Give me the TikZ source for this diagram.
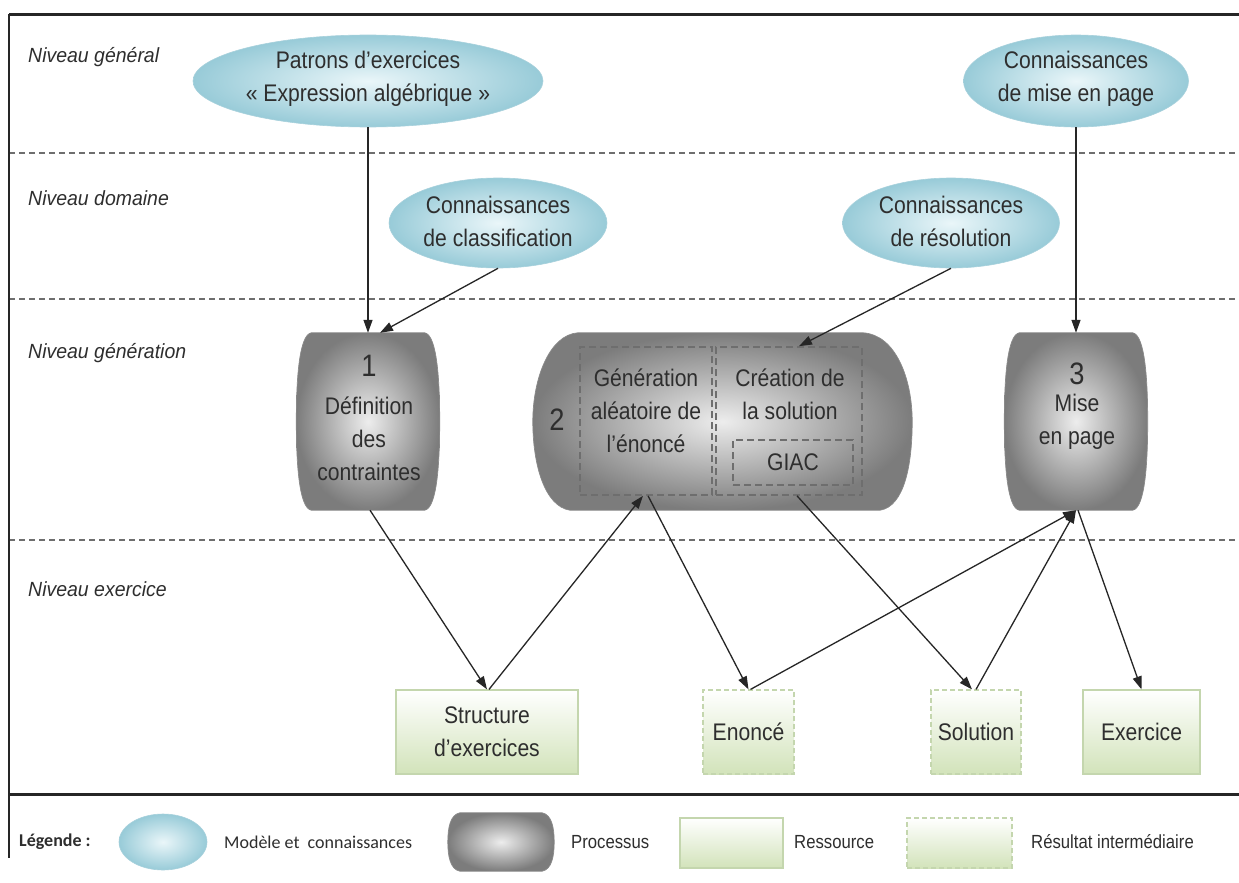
\documentclass[tikz,border=0pt]{standalone}
\usepackage{fontspec}
\setmainfont{Liberation Sans}
\newfontfamily\narfont{Liberation Sans}[FakeStretch=0.88]
\newfontfamily\lvlfont{Liberation Sans}[FakeStretch=0.95]
\newfontfamily\legfont{Carlito}
\usetikzlibrary{shapes.geometric,arrows.meta,backgrounds}
\definecolor{txtc}{HTML}{2E2E2E}
\definecolor{ellin}{HTML}{EAF6F9}
\definecolor{ellout}{HTML}{98CBD8}
\definecolor{ellb}{HTML}{A8D1DC}
\definecolor{procin}{HTML}{EDEDED}
\definecolor{procout}{HTML}{7C7C7C}
\definecolor{procb}{HTML}{8A8A8A}
\definecolor{resg}{HTML}{D2E3BA}
\definecolor{resb}{HTML}{C4D6AE}
\definecolor{dashc}{HTML}{6E6E6E}
\definecolor{framec}{HTML}{262626}
\tikzset{
  ell/.style={ellipse, draw=ellb, line width=0.6pt, inner color=ellin, outer color=ellout, inner sep=0pt},
  ntxt/.style={font=\narfont\fontsize{24}{33}\selectfont, text=txtc, align=center, inner sep=0pt},
  bignum/.style={font=\narfont\fontsize{31}{33}\selectfont, text=txtc, inner sep=0pt},
  lvl/.style={font=\lvlfont\itshape\fontsize{20.5}{24}\selectfont, text=txtc, anchor=base west, inner sep=0pt},
  anchorbox/.style={rectangle, draw=none, inner sep=0pt},
  procshape/.style={draw=procb, line width=0.7pt, inner color=procin, outer color=procout},
  dbox/.style={rectangle, draw=dashc, line width=1.6pt, dash pattern=on 7pt off 4pt, inner sep=0pt},
  resbox/.style={rectangle, draw=resb, line width=1.2pt, top color=white, bottom color=resg, inner sep=0pt,
     font=\narfont\fontsize{24}{33}\selectfont, text=txtc, align=center},
  intbox/.style={resbox, dash pattern=on 5pt off 3pt},
  levelline/.style={draw=dashc, line width=1.8pt, dash pattern=on 6pt off 4pt},
  conn/.style={draw=black!85, line width=1.3pt, -{Triangle[length=13pt,width=9pt]}},
  legtxt/.style={font=\narfont\fontsize{19}{22}\selectfont, text=txtc, anchor=west, inner sep=0pt},
}
% barrel outline for an anchor box #1, side bulge #2, vertical handle #3
% (xshift / yshift are page directions: positive yshift = up)
\newcommand{\barrelpath}[3]{%
  (#1.north west) -- (#1.north east)
  .. controls ([xshift=0.8*#2,yshift=-2pt]#1.north east) and ([xshift=#2,yshift=-#3]#1.north east) .. ([xshift=#2]#1.east)
  .. controls ([xshift=#2,yshift=#3]#1.south east) and ([xshift=0.8*#2,yshift=2pt]#1.south east) .. (#1.south east)
  -- (#1.south west)
  .. controls ([xshift=-0.8*#2,yshift=2pt]#1.south west) and ([xshift=-#2,yshift=#3]#1.south west) .. ([xshift=-#2]#1.west)
  .. controls ([xshift=-#2,yshift=-#3]#1.north west) and ([xshift=-0.8*#2,yshift=-2pt]#1.north west) .. cycle}
\begin{document}
\begin{tikzpicture}[x=1pt,y=-1pt]
\useasboundingbox (0,0) rectangle (1239,883);

% level labels
\node[lvl] (lv1) at (28,63) {Niveau général};
\node[lvl] (lv2) at (28,205) {Niveau domaine};
\node[lvl] (lv3) at (28,358) {Niveau génération};
\node[lvl] (lv4) at (28,596) {Niveau exercice};

% ellipses (models and knowledge)
\node[ell, minimum width=350pt, minimum height=92pt] (e1) at (368,81) {};
\node[ntxt] (e1t) at (368,79) {Patrons d’exercices\\« Expression algébrique »};
\node[ell, minimum width=218pt, minimum height=90pt] (e2) at (498,223) {};
\node[ntxt] (e2t) at (498,221) {Connaissances\\de classification};
\node[ell, minimum width=217pt, minimum height=90pt] (e3) at (951,223) {};
\node[ntxt] (e3t) at (951,221) {Connaissances\\de résolution};
\node[ell, minimum width=225pt, minimum height=92pt] (e4) at (1076,81) {};
\node[ntxt] (e4t) at (1076,79) {Connaissances\\de mise en page};

% processes (anchor boxes)
\node[anchorbox, minimum width=113pt, minimum height=177pt] (p1) at (368,421.5) {};
\node[anchorbox, minimum width=379pt, minimum height=177pt] (p2) at (722.5,421.5) {};
\node[anchorbox, minimum width=113pt, minimum height=177pt] (p3) at (1076,421.5) {};

\begin{scope}[on background layer]
  \fill[white] (0,0) rectangle (1239,883);
  \path[levelline] (9,153) -- (1239,153);
  \path[levelline] (9,299) -- (1239,299);
  \path[levelline] (9,540) -- (1239,540);
  % processes 1 and 3
  \path[procshape] \barrelpath{p1}{15pt}{45pt};
  \path[procshape] \barrelpath{p3}{15pt}{45pt};
  % process 2
  \path[procshape] ([xshift=45pt]p2.north west) -- ([xshift=-49pt]p2.north east)
    .. controls ([xshift=-17pt,yshift=-2pt]p2.north east) and ([yshift=-45pt]p2.north east) .. (p2.east)
    .. controls ([yshift=45pt]p2.south east) and ([xshift=-8pt,yshift=4pt]p2.south east) .. ([xshift=-32pt]p2.south east)
    -- ([xshift=37pt]p2.south west)
    .. controls ([xshift=12pt,yshift=4pt]p2.south west) and ([yshift=45pt]p2.south west) .. (p2.west)
    .. controls ([yshift=-45pt]p2.north west) and ([xshift=17pt,yshift=-2pt]p2.north west) .. cycle;
\end{scope}

% frame
\draw[framec, line width=3pt] (9,15) -- (1239,15);
\draw[framec, line width=2.5pt] (9,14) -- (9,858);
\draw[framec, line width=3pt] (9,794) -- (1239,794);

% process texts
\node[bignum] (p1n) at (369,366) {1};
\node[ntxt] (p1t) at (369,439) {Définition\\des\\contraintes};
\node[bignum] (p2n) at (557,420) {2};
\node[dbox, minimum width=132pt, minimum height=148pt] (gen) at (646,421) {};
\node[ntxt] (gent) at (646,411) {Génération\\aléatoire de\\l’énoncé};
\node[dbox, minimum width=146pt, minimum height=148pt] (crea) at (789,421) {};
\node[ntxt] (creat) at (790,394) {Création de\\la solution};
\node[dbox, minimum width=120pt, minimum height=45pt] (giac) at (793,462.5) {};
\node[ntxt] (giact) at (793,462.5) {GIAC};
\node[bignum] (p3n) at (1077,374) {3};
\node[ntxt] (p3t) at (1077,422) {Mise\\en page};

% resources
\node[resbox, minimum width=182pt, minimum height=84pt] (struct) at (487,732) {Structure\\d’exercices};
\node[intbox, minimum width=91pt, minimum height=84pt] (enon) at (748.5,732) {Enoncé};
\node[intbox, minimum width=90pt, minimum height=84pt] (sol) at (976,732) {Solution};
\node[resbox, minimum width=117pt, minimum height=84pt] (exer) at (1141.5,732) {Exercice};

% connectors
\draw[conn] (e1.south) -- (p1.north);
\draw[conn] (e2.south) -- ([xshift=12pt]p1.north);
\draw[conn] (e3.south) -- ([xshift=10pt]crea.north);
\draw[conn] (e4.south) -- (p3.north);
\draw[conn] ([xshift=2pt]p1.south) -- (struct.north);
\draw[conn] ([xshift=2pt]struct.north) -- ([xshift=-3pt]gen.south);
\draw[conn] ([xshift=2pt]gen.south) -- (enon.north);
\draw[conn] ([xshift=8pt]crea.south) -- ([xshift=-4pt]sol.north);
\draw[conn] ([xshift=2pt]enon.north) -- (p3.south);
\draw[conn] (sol.north) -- (p3.south);
\draw[conn] ([xshift=2pt]p3.south) -- (exer.north);

% legend
\node[font=\legfont\bfseries\fontsize{18}{22}\selectfont, text=txtc, anchor=west, inner sep=0pt] (leg) at (19,842) {Légende :};
\node[ell, minimum width=88pt, minimum height=56pt] (lell) at (163,842) {};
\node[legtxt, font=\legfont\fontsize{18}{22}\selectfont] (lellt) at (224,842) {Modèle et~ connaissances};
\node[anchorbox, minimum width=82pt, minimum height=58pt] (lproc) at (501,842) {};
\path[procshape] \barrelpath{lproc}{12pt}{15pt};
\node[legtxt] (lproct) at (571,842) {Processus};
\node[resbox, minimum width=103pt, minimum height=50pt] (lres) at (731.5,843) {};
\node[legtxt] (lrest) at (794,842) {Ressource};
\node[intbox, minimum width=105pt, minimum height=50pt] (lint) at (959.5,843) {};
\node[legtxt] (lintt) at (1031,842) {Résultat intermédiaire};
\end{tikzpicture}
\end{document}
